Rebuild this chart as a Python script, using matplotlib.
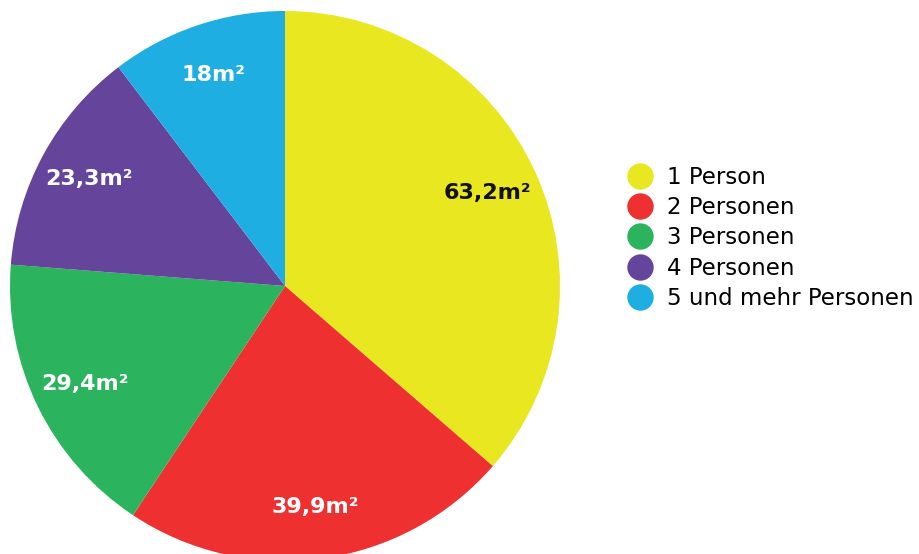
import matplotlib
matplotlib.use("Agg")
import matplotlib.pyplot as plt
from matplotlib.lines import Line2D

# -----------------------------
# Data
# -----------------------------
groups = ["1 Person", "2 Personen", "3 Personen", "4 Personen", "5 und mehr Personen"]
area_m2 = [63.2, 39.9, 29.4, 23.3, 18.0]
colors = ["#E9E71F", "#EF3030", "#2BB35E", "#65449B", "#1FAEE2"]
label_colors = ["#111111", "white", "white", "white", "white"]


def fmt_area(v):
    s = f"{v:g}".replace(".", ",")
    return f"{s}m²"


# -----------------------------
# Plot
# -----------------------------
W, H = 919, 554
fig = plt.figure(figsize=(W / 100, H / 100), dpi=100)
ax = fig.add_axes([0, 0, 1, 1])

wedges, texts, autotexts = ax.pie(
    area_m2,
    colors=colors,
    startangle=90,
    counterclock=False,
    center=(285, H - 286),
    radius=275,
    frame=True,
    autopct="%1.1f",
    pctdistance=0.81,
    wedgeprops=dict(linewidth=0),
)
ax.set_xlim(0, W)
ax.set_ylim(0, H)
ax.set_aspect("equal")
ax.axis("off")

for t, v, c in zip(autotexts, area_m2, label_colors):
    t.set_text(fmt_area(v))
    t.set_color(c)
    t.set_fontsize(16)
    t.set_fontweight("bold")

handles = [
    Line2D([], [], marker="o", linestyle="none", markersize=19,
           markerfacecolor=c, markeredgewidth=0)
    for c in colors
]
ax.legend(
    handles, groups,
    loc="center left",
    bbox_to_anchor=(626 / W, 1 - 238 / H),
    bbox_transform=fig.transFigure,
    frameon=False,
    fontsize=16.5,
    handlelength=1.2,
    handletextpad=0.59,
    labelspacing=0.31,
    borderpad=0,
    borderaxespad=0,
)

fig.savefig("out.png", dpi=100)
